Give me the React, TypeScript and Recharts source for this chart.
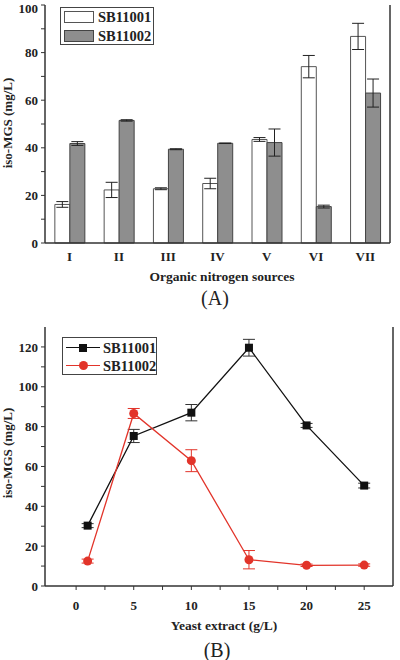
import { BarChart, Bar, LineChart, Line, XAxis, YAxis, ErrorBar } from "recharts";

// (A) organic nitrogen sources
const sources = ["I", "II", "III", "IV", "V", "VI", "VII"];
const sb11001Mean = [16.2, 22.3, 22.8, 25.0, 43.5, 74.1, 86.8];
const sb11001Err = [1.2, 3.2, 0.4, 2.2, 0.8, 4.7, 5.5];
const sb11002Mean = [41.8, 51.5, 39.4, 41.9, 42.2, 15.3, 63.0];
const sb11002Err = [0.8, 0.3, 0.2, 0.1, 5.7, 0.6, 5.9];

// (B) yeast extract
const yeast = [1, 5, 10, 15, 20, 25];
const yeastSb11001 = [30.3, 75.3, 87.0, 119.6, 80.6, 50.4];
const yeastSb11001Err = [1.0, 3.3, 4.1, 4.2, 1.0, 1.2];
const yeastSb11002 = [12.5, 86.6, 62.9, 13.2, 10.4, 10.5];
const yeastSb11002Err = [1.0, 2.5, 5.5, 4.6, 0.6, 0.6];

const ticksA = [0, 10, 20, 30, 40, 50, 60, 70, 80, 90, 100];
const ticksBLeft = [0, 10, 20, 30, 40, 50, 60, 70, 80, 90, 100, 110, 120];
const ticksBRight = [0, 20, 40, 60, 80, 100, 120];
const ticksBx = [0, 2.5, 5, 7.5, 10, 12.5, 15, 17.5, 20, 22.5, 25];

const RED = "#e2342a";
const AXIS = "#333";
const serif = "'Liberation Serif', 'DejaVu Serif', serif";
const tickFont = { fontFamily: serif, fontWeight: 700, fontSize: 13, fill: "#222" };

const barData = sources.map((s, i) => ({
  name: s,
  a: sb11001Mean[i],
  ea: sb11001Err[i],
  b: sb11002Mean[i],
  eb: sb11002Err[i],
}));

const lineData = yeast.map((x, i) => ({
  x,
  a: yeastSb11001[i],
  ea: yeastSb11001Err[i],
  b: yeastSb11002[i],
  eb: yeastSb11002Err[i],
}));

const SquareDot = (p: any) => (
  <rect key={p.key} x={p.cx - 4} y={p.cy - 4} width={8} height={8} fill="#111" />
);
const CircleDot = (p: any) => (
  <circle key={p.key} cx={p.cx} cy={p.cy} r={4.5} fill={RED} />
);

const boldText = (extra: React.CSSProperties): React.CSSProperties => ({
  position: "absolute",
  fontFamily: serif,
  fontWeight: 700,
  color: "#222",
  whiteSpace: "nowrap",
  lineHeight: 1,
  ...extra,
});

const legendBox: React.CSSProperties = {
  position: "absolute",
  border: "1px solid #444",
  background: "#fff",
  boxSizing: "border-box",
};

export default function App() {
  const label20 = (v: number) => (v % 20 === 0 ? String(v) : "");
  return (
    <div style={{ position: "absolute", left: 0, top: 0, width: 400, height: 660, background: "#fff" }}>
      {/* panel A */}
      <div style={{ position: "absolute", left: 0, top: 0 }}>
        <BarChart
          width={400}
          height={320}
          data={barData}
          margin={{ top: 5, right: 0, left: 0, bottom: 0 }}
          barCategoryGap="20%"
          barGap={0}
        >
          <XAxis
            dataKey="name"
            height={77}
            tickLine={false}
            tickSize={0}
            tickMargin={9}
            axisLine={{ stroke: AXIS, strokeWidth: 1.5 }}
            tick={tickFont}
            interval={0}
          />
          <XAxis xAxisId="top" dataKey="name" orientation="top" height={0} tick={false} tickLine={false} axisLine={{ stroke: AXIS, strokeWidth: 1.5 }} />
          <YAxis
            width={45}
            domain={[0, 100]}
            ticks={ticksA}
            tickFormatter={label20}
            tickSize={4}
            tickMargin={3}
            tick={tickFont}
            tickLine={{ stroke: AXIS }}
            axisLine={{ stroke: AXIS, strokeWidth: 1.5 }}
          />
          <YAxis
            yAxisId="right"
            orientation="right"
            width={10}
            domain={[0, 100]}
            ticks={ticksA}
            tick={false}
            tickSize={3}
            tickLine={{ stroke: AXIS }}
            axisLine={{ stroke: AXIS, strokeWidth: 1.5 }}
          />
          <Bar dataKey="a" fill="#fff" stroke="#555" strokeWidth={1} isAnimationActive={false}>
            <ErrorBar dataKey="ea" width={6} stroke="#222" strokeWidth={1} />
          </Bar>
          <Bar dataKey="b" fill="#8e8e8e" stroke="#444" strokeWidth={1} isAnimationActive={false}>
            <ErrorBar dataKey="eb" width={6} stroke="#222" strokeWidth={1} />
          </Bar>
        </BarChart>
      </div>

      <div style={{ ...legendBox, left: 60, top: 7, width: 94, height: 38 }}>
        <div style={{ position: "absolute", left: 3, top: 3, width: 30, height: 12, border: "1px solid #555", background: "#fff", boxSizing: "border-box" }} />
        <div style={boldText({ left: 37, top: 2, fontSize: 14.5 })}>SB11001</div>
        <div style={{ position: "absolute", left: 3, top: 22, width: 30, height: 12, border: "1px solid #444", background: "#8e8e8e", boxSizing: "border-box" }} />
        <div style={boldText({ left: 37, top: 21, fontSize: 14.5 })}>SB11002</div>
      </div>

      <div style={boldText({ left: 7, top: 123, fontSize: 13, transform: "translate(-50%, -50%) rotate(-90deg)" })}>iso-MGS (mg/L)</div>
      <div style={boldText({ left: 222, top: 277, fontSize: 13.5, transform: "translate(-50%, -50%)" })}>Organic nitrogen sources</div>
      <div style={{ position: "absolute", left: 215, top: 298, transform: "translate(-50%, -50%)", fontFamily: serif, fontSize: 20, color: "#222", lineHeight: 1 }}>(A)</div>

      {/* panel B */}
      <div style={{ position: "absolute", left: 0, top: 322 }}>
        <LineChart
          width={400}
          height={320}
          data={lineData}
          margin={{ top: 5, right: 0, left: 0, bottom: 0 }}
        >
          <XAxis
            dataKey="x"
            type="number"
            domain={[-2.7, 27.5]}
            allowDataOverflow
            ticks={ticksBx}
            tickFormatter={(v: number) => (v % 5 === 0 ? String(v) : "")}
            height={56}
            tickSize={4}
            tickMargin={11}
            tick={tickFont}
            tickLine={{ stroke: AXIS }}
            axisLine={{ stroke: AXIS, strokeWidth: 1.5 }}
          />
          <XAxis xAxisId="top" dataKey="x" type="number" domain={[-2.7, 27.5]} allowDataOverflow orientation="top" height={0} tick={false} tickLine={false} axisLine={{ stroke: AXIS, strokeWidth: 1.5 }} />
          <YAxis
            width={45}
            domain={[0, 130]}
            allowDataOverflow
            ticks={ticksBLeft}
            tickFormatter={label20}
            tickSize={4}
            tickMargin={3}
            tick={tickFont}
            tickLine={{ stroke: AXIS }}
            axisLine={{ stroke: AXIS, strokeWidth: 1.5 }}
          />
          <YAxis
            yAxisId="right"
            orientation="right"
            width={7}
            domain={[0, 130]}
            allowDataOverflow
            ticks={ticksBRight}
            tick={false}
            tickSize={3}
            tickLine={{ stroke: AXIS }}
            axisLine={{ stroke: AXIS, strokeWidth: 1.5 }}
          />
          <Line dataKey="a" stroke="#111" strokeWidth={1.3} dot={SquareDot} activeDot={false} isAnimationActive={false}>
            <ErrorBar dataKey="ea" width={6} stroke="#333" strokeWidth={1} direction="y" />
          </Line>
          <Line dataKey="b" stroke={RED} strokeWidth={1.3} dot={CircleDot} activeDot={false} isAnimationActive={false}>
            <ErrorBar dataKey="eb" width={6} stroke={RED} strokeWidth={1} direction="y" />
          </Line>
        </LineChart>
      </div>

      <div style={{ ...legendBox, left: 62, top: 337, width: 95, height: 38 }}>
        <div style={{ position: "absolute", left: 3, top: 9, width: 34, height: 0, borderTop: "1.3px solid #111" }} />
        <div style={{ position: "absolute", left: 16, top: 6, width: 8, height: 8, background: "#111" }} />
        <div style={boldText({ left: 40, top: 3, fontSize: 14.5 })}>SB11001</div>
        <div style={{ position: "absolute", left: 3, top: 27, width: 34, height: 0, borderTop: "1.3px solid " + RED }} />
        <div style={{ position: "absolute", left: 15.5, top: 23, width: 9, height: 9, borderRadius: "50%", background: RED }} />
        <div style={boldText({ left: 40, top: 21, fontSize: 14.5 })}>SB11002</div>
      </div>

      <div style={boldText({ left: 7, top: 453, fontSize: 13, transform: "translate(-50%, -50%) rotate(-90deg)" })}>iso-MGS (mg/L)</div>
      <div style={boldText({ left: 224, top: 626, fontSize: 13.5, transform: "translate(-50%, -50%)" })}>Yeast extract (g/L)</div>
      <div style={{ position: "absolute", left: 217, top: 650, transform: "translate(-50%, -50%)", fontFamily: serif, fontSize: 20, color: "#222", lineHeight: 1 }}>(B)</div>
    </div>
  );
}
